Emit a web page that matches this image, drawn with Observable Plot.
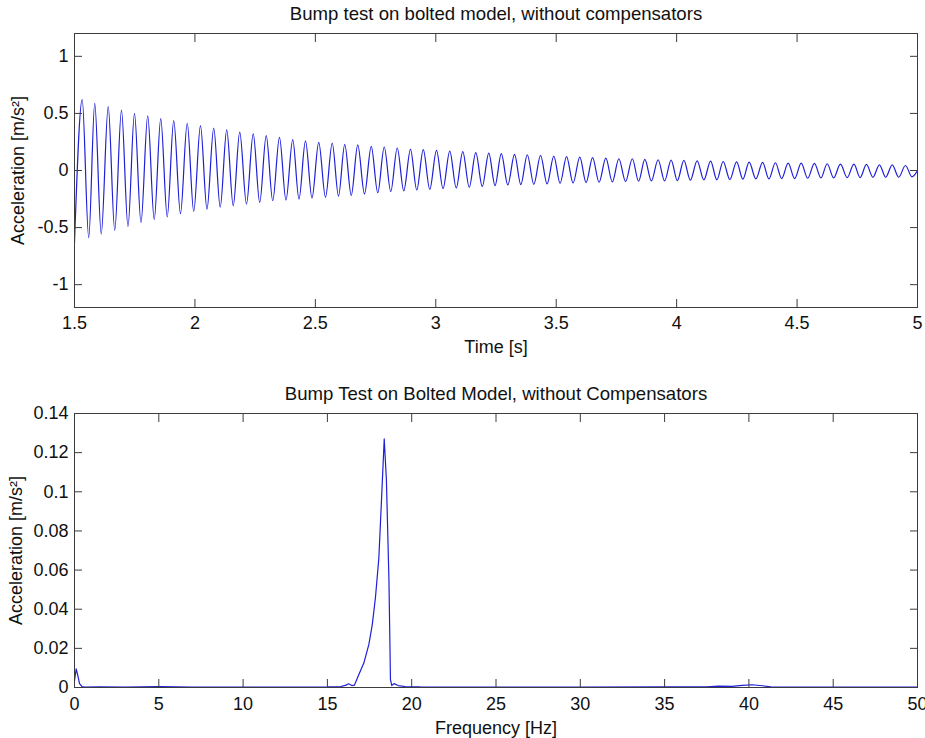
<!DOCTYPE html>
<html>
<head>
<meta charset="utf-8">
<script src="https://cdn.jsdelivr.net/npm/d3@7"></script>
<script src="https://cdn.jsdelivr.net/npm/@observablehq/plot@0.6"></script>
<style>
  body { margin: 0; background: #fff; }
  #wrap { position: relative; width: 925px; height: 738px; overflow: hidden; background: #fff; }
  #top { position: absolute; left: 0; top: 0; }
  #bot { position: absolute; left: 0; top: 370px; }
</style>
</head>
<body>
<div id="wrap"><div id="top"></div><div id="bot"></div></div>
<script>
// ---------- Top panel: time signal (extrema) ----------
const topTitle = "Bump test on bolted model, without compensators";
const topXLabel = "Time [s]";
const topYLabel = "Acceleration [m/s²]";
const topXTicks = [1.5, 2, 2.5, 3, 3.5, 4, 4.5, 5];
const topYTicks = [-1, -0.5, 0, 0.5, 1];

const peakTimes = [1.532, 1.584, 1.640, 1.695, 1.749, 1.804, 1.858, 1.912, 1.968, 2.023, 2.078, 2.132, 2.186, 2.242, 2.296, 2.351,
  2.406, 2.459, 2.514, 2.570, 2.622, 2.676, 2.732, 2.786, 2.840, 2.895, 2.948, 3.003, 3.058, 3.112, 3.166, 3.220,
  3.272, 3.327, 3.380, 3.435, 3.490, 3.543, 3.598, 3.651, 3.706, 3.760, 3.816, 3.868, 3.923, 3.977, 4.030, 4.085,
  4.141, 4.193, 4.249, 4.301, 4.357, 4.410, 4.463, 4.517, 4.572, 4.625, 4.680, 4.736, 4.788, 4.842, 4.895, 4.950];
const peakValues = [0.620, 0.588, 0.559, 0.529, 0.500, 0.479, 0.455, 0.437, 0.414, 0.393, 0.371, 0.356, 0.337, 0.321, 0.305, 0.291,
  0.271, 0.259, 0.247, 0.241, 0.229, 0.224, 0.212, 0.206, 0.197, 0.185, 0.182, 0.176, 0.170, 0.165, 0.156, 0.153,
  0.147, 0.141, 0.138, 0.132, 0.126, 0.121, 0.118, 0.112, 0.109, 0.103, 0.103, 0.097, 0.094, 0.091, 0.088, 0.085,
  0.082, 0.079, 0.076, 0.074, 0.071, 0.068, 0.065, 0.065, 0.062, 0.059, 0.056, 0.056, 0.053, 0.050, 0.050, 0.044];
const troughTimes = [1.500, 1.559, 1.611, 1.667, 1.722, 1.776, 1.831, 1.885, 1.940, 1.995, 2.050, 2.105, 2.159, 2.214, 2.269, 2.323, 2.378,
  2.432, 2.486, 2.542, 2.596, 2.649, 2.704, 2.759, 2.813, 2.867, 2.921, 2.975, 3.030, 3.085, 3.139, 3.193, 3.246,
  3.299, 3.353, 3.407, 3.462, 3.516, 3.570, 3.624, 3.678, 3.733, 3.788, 3.842, 3.895, 3.950, 4.003, 4.057, 4.113,
  4.167, 4.221, 4.275, 4.329, 4.383, 4.436, 4.490, 4.544, 4.599, 4.652, 4.708, 4.762, 4.815, 4.868, 4.922, 4.977];
const troughValues = [-0.630, -0.588, -0.556, -0.524, -0.491, -0.456, -0.430, -0.406, -0.378, -0.359, -0.338, -0.321, -0.309, -0.294, -0.280, -0.265,
  -0.259, -0.250, -0.241, -0.235, -0.224, -0.218, -0.205, -0.195, -0.185, -0.178, -0.171, -0.165, -0.159, -0.153, -0.147, -0.140,
  -0.132, -0.126, -0.124, -0.121, -0.118, -0.112, -0.109, -0.106, -0.103, -0.100, -0.097, -0.094, -0.091, -0.091, -0.088, -0.085,
  -0.082, -0.082, -0.079, -0.076, -0.074, -0.074, -0.071, -0.071, -0.068, -0.065, -0.065, -0.062, -0.062, -0.059, -0.059, -0.059, -0.055];
const endTimes = [5.0];
const endValues = [0.0];

// ---------- Bottom panel: spectrum ----------
const botTitle = "Bump Test on Bolted Model, without Compensators";
const botXLabel = "Frequency [Hz]";
const botYLabel = "Acceleration [m/s²]";
const botXTicks = [0, 5, 10, 15, 20, 25, 30, 35, 40, 45, 50];
const botYTicks = [0, 0.02, 0.04, 0.06, 0.08, 0.1, 0.12, 0.14];
const botYTickLabels = ["0", "0.02", "0.04", "0.06", "0.08", "0.1", "0.12", "0.14"];

const freq = [0, 0.1, 0.2, 0.3, 0.45, 0.6, 1.5, 3, 5, 7, 10, 13, 15, 15.8, 16.1, 16.25, 16.45, 16.6, 16.86, 17.16, 17.46, 17.66, 17.85,
  18.05, 18.21, 18.37, 18.5, 18.65, 18.74, 18.82, 18.95, 19.2, 19.6, 20.5, 25, 30, 35, 37.5, 38.2, 39, 39.6, 40.2, 40.8, 41.3, 45, 50];
const amp = [0.0035, 0.0095, 0.006, 0.002, 0.0004, 0.0002, 0.0003, 0.0002, 0.0004, 0.0002, 0.0002, 0.0002, 0.0003, 0.0005, 0.0012, 0.0019, 0.001, 0.0012, 0.0065, 0.0125, 0.022, 0.032, 0.046,
  0.066, 0.096, 0.127, 0.106, 0.055, 0.004, 0.001, 0.002, 0.001, 0.0005, 0.0003, 0.0002, 0.0002, 0.0003, 0.0003, 0.0007, 0.0006, 0.0011, 0.0014, 0.0009, 0.0003, 0.0002, 0.0002];

// ---------- styling ----------
const lineColor = "#1f1fd8";
const axisColor = "#3c3c3c";
const textColor = "#111";
const font = "'Liberation Sans', Arial, Helvetica, sans-serif";
const fs = 18;
const titleFs = 18.6;

const signal = [
  ...peakTimes.map((t, i) => ({t, v: peakValues[i]})),
  ...troughTimes.map((t, i) => ({t, v: troughValues[i]})),
  ...endTimes.map((t, i) => ({t, v: endValues[i]}))
].sort((a, b) => a.t - b.t);

const spectrum = freq.map((f, i) => ({f, a: amp[i]}));

function frameMarks({xTicks, yTicks, yFmt, title, xLabel, yLabel, xPad, yLabelDx, xLabelDy}) {
  const none = () => "";
  return [
    Plot.frame({stroke: axisColor, strokeWidth: 1}),
    Plot.axisX({ticks: xTicks, anchor: "bottom", tickSize: -8, tickFormat: none, stroke: axisColor, label: null}),
    Plot.axisX({ticks: xTicks, anchor: "top", tickSize: -8, tickFormat: none, stroke: axisColor, label: null}),
    Plot.axisY({ticks: yTicks, anchor: "left", tickSize: -8, tickFormat: none, stroke: axisColor, label: null}),
    Plot.axisY({ticks: yTicks, anchor: "right", tickSize: -8, tickFormat: none, stroke: axisColor, label: null}),
    Plot.axisX({ticks: xTicks, anchor: "bottom", tickSize: 0, tickPadding: xPad, tickFormat: d => String(d), fill: textColor, fontSize: fs, label: null}),
    Plot.axisY({ticks: yTicks, anchor: "left", tickSize: 0, tickPadding: 6, tickFormat: yFmt, fill: textColor, fontSize: fs, label: null}),
    Plot.text([title], {frameAnchor: "top", dy: -19, text: d => d, lineAnchor: "middle", fill: textColor, fontSize: titleFs}),
    Plot.text([xLabel], {frameAnchor: "bottom", dy: xLabelDy, text: d => d, lineAnchor: "middle", fill: textColor, fontSize: fs}),
    Plot.text([yLabel], {frameAnchor: "left", dx: yLabelDx, rotate: -90, text: d => d, lineAnchor: "middle", textAnchor: "middle", fill: textColor, fontSize: fs})
  ];
}

const topPlot = Plot.plot({
  width: 925, height: 370,
  marginLeft: 74, marginRight: 8, marginTop: 33, marginBottom: 63,
  style: {fontFamily: font, fontSize: fs + "px", background: "#fff", color: textColor},
  x: {domain: [1.5, 5]},
  y: {domain: [-1.2, 1.2]},
  marks: [
    Plot.line(signal, {x: "t", y: "v", stroke: lineColor, strokeWidth: 1.2, curve: "monotone-x", clip: true}),
    ...frameMarks({xTicks: topXTicks, yTicks: topYTicks, yFmt: d => String(d), title: topTitle, xLabel: topXLabel, yLabel: topYLabel, xPad: 9, yLabelDx: -56, xLabelDy: 40})
  ]
});

const botPlot = Plot.plot({
  width: 925, height: 368,
  marginLeft: 74, marginRight: 8, marginTop: 43, marginBottom: 51,
  style: {fontFamily: font, fontSize: fs + "px", background: "#fff", color: textColor},
  x: {domain: [0, 50]},
  y: {domain: [0, 0.14]},
  marks: [
    Plot.line(spectrum, {x: "f", y: "a", stroke: lineColor, strokeWidth: 1.2, clip: true}),
    ...frameMarks({xTicks: botXTicks, yTicks: botYTicks, yFmt: d => botYTickLabels[botYTicks.indexOf(d)], title: botTitle, xLabel: botXLabel, yLabel: botYLabel, xPad: 10, yLabelDx: -58, xLabelDy: 41})
  ]
});

document.getElementById("top").appendChild(topPlot);
document.getElementById("bot").appendChild(botPlot);
</script>
</body>
</html>
